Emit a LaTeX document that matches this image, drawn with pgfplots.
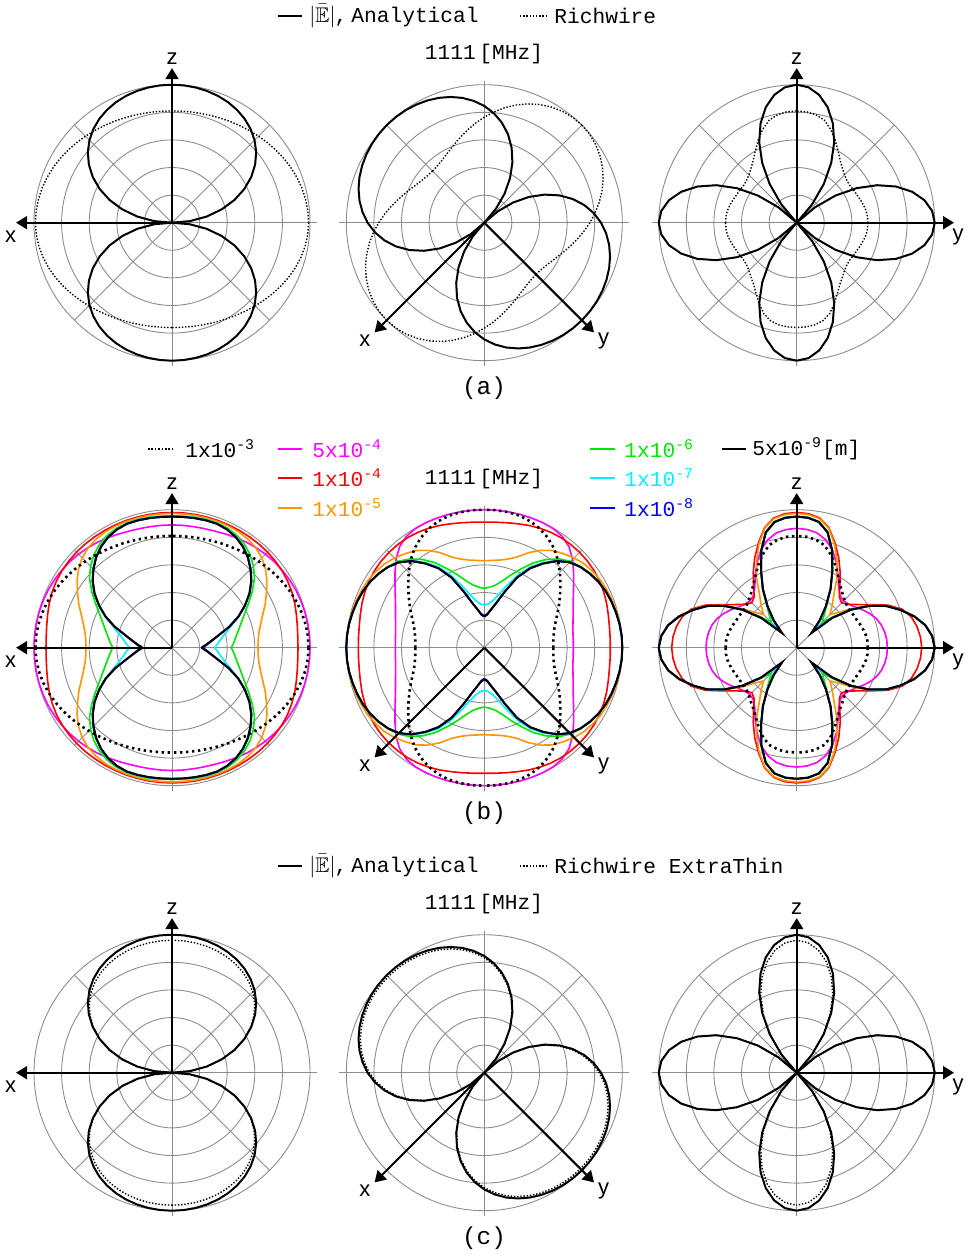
\documentclass[border=0pt]{standalone}
\usepackage{amssymb}
\usepackage{pgfplots}
\pgfplotsset{compat=1.18}
\usepackage{pgfplotstable}
\usepackage{fontspec}
\setmainfont{Liberation Mono}
\newfontfamily\lsans{Liberation Sans}
\usetikzlibrary{arrows.meta}

\definecolor{cmag}{RGB}{255,0,255}
\definecolor{cred}{RGB}{255,0,0}
\definecolor{cora}{RGB}{255,150,0}
\definecolor{cgre}{RGB}{0,230,0}
\definecolor{ccya}{RGB}{0,240,255}
\definecolor{cblu}{RGB}{0,0,255}

% quadrant tables: a = angle from the horizontal (deg), radii normalised to 1
\pgfplotstableread{
a E Ed Ec P Q Qd Dt Db Du Dl
0 0 0 0 1.000 1 1 0.990 0.990 0.515 0.515
5 0.1293 0.1302 0.1274 0.9964 0.9848 0.9848 0.9882 0.9874 0.515 0.515
10 0.2547 0.2560 0.2509 0.9858 0.9397 0.9397 0.9827 0.9797 0.510 0.510
15 0.3731 0.3741 0.3675 0.9685 0.8660 0.8660 0.9740 0.9677 0.500 0.500
20 0.4816 0.4813 0.4744 0.9450 0.7660 0.7660 0.9626 0.9520 0.490 0.490
25 0.5786 0.5760 0.5699 0.9161 0.6428 0.6428 0.9490 0.9336 0.480 0.480
30 0.6633 0.6575 0.6534 0.8825 0.5000 0.5000 0.9341 0.9136 0.475 0.475
35 0.7356 0.7260 0.7246 0.8454 0.3420 0.3420 0.9182 0.8929 0.470 0.470
40 0.7962 0.7824 0.7843 0.8058 0.1736 0.1736 0.9023 0.8723 0.475 0.475
45 0.8459 0.8279 0.8332 0.7650 0 0 0.8866 0.8526 0.490 0.490
50 0.8862 0.8639 0.8729 0.7242 0.1736 0.1667 0.8717 0.8341 0.515 0.515
55 0.9183 0.8921 0.9045 0.6846 0.3420 0.3283 0.8580 0.8172 0.550 0.545
60 0.9434 0.9136 0.9292 0.6475 0.5000 0.4800 0.8457 0.8023 0.600 0.590
65 0.9627 0.9299 0.9483 0.6139 0.6428 0.6171 0.8351 0.7895 0.660 0.645
70 0.9772 0.9418 0.9625 0.5850 0.7660 0.7354 0.8262 0.7790 0.720 0.700
75 0.9876 0.9502 0.9728 0.5615 0.8660 0.8314 0.8192 0.7707 0.770 0.735
80 0.9947 0.9559 0.9798 0.5442 0.9397 0.9021 0.8141 0.7648 0.795 0.752
85 0.9987 0.9591 0.9837 0.5336 0.9848 0.9454 0.8110 0.7612 0.807 0.758
90 1 0.9601 0.985 0.5300 1 0.96 0.8100 0.7600 0.810 0.760
}\TA

% row (b), x-z plane
\pgfplotstableread{
a M R O G C B K
0 1.000 0.913 0.623 0.430 0.310 0.222 0.213
5 1.000 0.915 0.627 0.450 0.333 0.255 0.248
10 0.999 0.922 0.640 0.472 0.360 0.295 0.290
15 0.997 0.933 0.665 0.500 0.400 0.352 0.350
20 0.994 0.946 0.700 0.535 0.455 0.440 0.440
25 0.990 0.958 0.745 0.580 0.535 0.530 0.530
30 0.984 0.967 0.790 0.640 0.615 0.610 0.610
35 0.977 0.973 0.840 0.710 0.690 0.685 0.685
40 0.968 0.977 0.885 0.780 0.755 0.750 0.750
45 0.958 0.979 0.920 0.835 0.810 0.805 0.805
50 0.947 0.980 0.945 0.880 0.860 0.855 0.855
55 0.935 0.980 0.960 0.915 0.900 0.895 0.895
60 0.922 0.980 0.968 0.940 0.930 0.925 0.925
65 0.910 0.980 0.972 0.955 0.950 0.945 0.945
70 0.900 0.980 0.973 0.962 0.960 0.955 0.955
75 0.894 0.980 0.973 0.962 0.960 0.955 0.955
80 0.891 0.980 0.973 0.960 0.957 0.953 0.953
85 0.890 0.980 0.973 0.957 0.955 0.951 0.951
90 0.890 0.980 0.973 0.955 0.953 0.950 0.950
}\TBa

% row (b), x-y plane
\pgfplotstableread{
a M R O G C B K D
0 0.645 0.913 1.000 1.000 1.000 1.000 1.000 0.500
5 0.647 0.915 1.000 0.999 0.999 0.999 0.999 0.502
10 0.652 0.920 0.998 0.995 0.995 0.995 0.995 0.510
15 0.665 0.930 0.995 0.988 0.988 0.988 0.988 0.525
20 0.685 0.943 0.990 0.980 0.980 0.980 0.980 0.550
25 0.710 0.955 0.982 0.970 0.970 0.970 0.970 0.585
30 0.745 0.965 0.975 0.957 0.955 0.955 0.955 0.625
35 0.790 0.972 0.960 0.938 0.935 0.935 0.935 0.670
40 0.845 0.976 0.945 0.913 0.910 0.910 0.910 0.720
45 0.905 0.977 0.920 0.885 0.876 0.875 0.875 0.775
50 0.955 0.976 0.890 0.840 0.825 0.820 0.820 0.830
55 0.985 0.972 0.860 0.780 0.755 0.745 0.745 0.880
60 0.997 0.965 0.815 0.710 0.680 0.665 0.665 0.920
65 1.000 0.955 0.760 0.630 0.585 0.560 0.560 0.952
70 1.000 0.943 0.700 0.560 0.480 0.430 0.430 0.975
75 1.000 0.930 0.665 0.500 0.395 0.337 0.335 0.990
80 1.000 0.920 0.645 0.460 0.345 0.283 0.280 0.997
85 1.000 0.913 0.635 0.440 0.318 0.245 0.240 1.000
90 1.000 0.910 0.630 0.430 0.310 0.232 0.225 1.000
}\TBb

% row (b), y-z plane
\pgfplotstableread{
a M R O G C B K
0 0.657 0.906 1.000 1.000 1.000 1.000 1.000
5 0.655 0.900 0.985 0.985 0.985 0.985 0.985
10 0.648 0.885 0.948 0.946 0.945 0.945 0.945
15 0.635 0.860 0.885 0.882 0.880 0.880 0.880
20 0.615 0.815 0.805 0.802 0.800 0.800 0.800
25 0.585 0.730 0.720 0.717 0.715 0.715 0.715
30 0.550 0.625 0.615 0.607 0.605 0.605 0.605
35 0.515 0.545 0.500 0.485 0.480 0.480 0.480
40 0.490 0.490 0.400 0.355 0.340 0.335 0.335
45 0.480 0.460 0.340 0.260 0.200 0.155 0.150
50 0.490 0.480 0.400 0.310 0.275 0.262 0.260
55 0.530 0.545 0.470 0.380 0.370 0.370 0.370
60 0.600 0.630 0.580 0.495 0.490 0.490 0.490
65 0.680 0.720 0.690 0.615 0.610 0.610 0.610
70 0.755 0.810 0.800 0.755 0.750 0.750 0.750
75 0.810 0.900 0.895 0.868 0.865 0.865 0.865
80 0.845 0.955 0.950 0.928 0.925 0.925 0.925
85 0.860 0.975 0.968 0.948 0.945 0.945 0.945
90 0.865 0.980 0.973 0.953 0.950 0.950 0.950
}\TBc

\pgfplotsset{
  pol/.style={width=154.56pt, height=154.56pt, scale only axis,
    xmin=-1.12, xmax=1.12, ymin=-1.12, ymax=1.12,
    hide axis, clip=false, anchor=center},
  sol/.style={data cs=polar, no marks, black, line width=1pt},
  dota/.style={data cs=polar, no marks, black, line width=0.7pt, dash pattern=on 0.7pt off 0.9pt},
  dotb/.style={data cs=polar, no marks, black, line width=1.3pt, dash pattern=on 1.2pt off 1.8pt},
  lm/.style={data cs=polar, no marks, cmag, line width=0.8pt},
  lr/.style={data cs=polar, no marks, cred, line width=0.8pt},
  lo/.style={data cs=polar, no marks, cora, line width=0.8pt},
  lg/.style={data cs=polar, no marks, cgre, line width=0.8pt},
  lc/.style={data cs=polar, no marks, ccya, line width=0.8pt},
  lb/.style={data cs=polar, no marks, cblu, line width=0.9pt},
}
\tikzset{
  gridc/.style={black!45, line width=0.45pt},
  axarr/.style={line width=1pt, -{Triangle[length=5.5pt,width=6.5pt]}},
  axlab/.style={font=\lsans\fontsize{11}{11}\selectfont},
}

% upper and lower halves of a curve given on one quadrant; #4 turns the frame
\newcommand{\qup}[4]{%
  \addplot[#1] table[x expr={#4+\thisrow{a}}, y=#3] {#2};
  \addplot[#1] table[x expr={#4+180-\thisrow{a}}, y=#3] {#2};}
\newcommand{\qdn}[4]{%
  \addplot[#1] table[x expr={#4+180+\thisrow{a}}, y=#3] {#2};
  \addplot[#1] table[x expr={#4+360-\thisrow{a}}, y=#3] {#2};}
\newcommand{\fourq}[4]{\qup{#1}{#2}{#3}{#4}\qdn{#1}{#2}{#3}{#4}}

\newcommand{\polgrid}{%
  \draw[gridc] (axis cs:0,0) circle[radius=13.8pt];
  \draw[gridc] (axis cs:0,0) circle[radius=27.6pt];
  \draw[gridc] (axis cs:0,0) circle[radius=41.4pt];
  \draw[gridc] (axis cs:0,0) circle[radius=55.2pt];
  \draw[gridc] (axis cs:0,0) circle[radius=69pt];
  \draw[gridc] (axis cs:-1.05,0) -- (axis cs:1.05,0);
  \draw[gridc] (axis cs:0,-1.04) -- (axis cs:0,1.03);
  \draw[gridc] (axis cs:-0.7071,-0.7071) -- (axis cs:0.7071,0.7071);
  \draw[gridc] (axis cs:-0.7071,0.7071) -- (axis cs:0.7071,-0.7071);}
\newcommand{\arrZX}{%
  \draw[axarr] (axis cs:0,0) -- (axis cs:0,1.12);
  \draw[axarr] (axis cs:0,0) -- (axis cs:-1.13,0);
  \node[axlab] at (axis cs:0,1.19) {z};
  \node[axlab] at (axis cs:-1.17,-0.10) {x};}
\newcommand{\arrXY}{%
  \draw[axarr] (axis cs:0,0) -- (axis cs:-0.795,-0.795);
  \draw[axarr] (axis cs:0,0) -- (axis cs:0.795,-0.795);
  \node[axlab] at (axis cs:-0.865,-0.857) {x};
  \node[axlab] at (axis cs:0.865,-0.857) {y};}
\newcommand{\arrZY}{%
  \draw[axarr] (axis cs:0,0) -- (axis cs:0,1.12);
  \draw[axarr] (axis cs:0,0) -- (axis cs:1.14,0);
  \node[axlab] at (axis cs:0,1.19) {z};
  \node[axlab] at (axis cs:1.17,-0.10) {y};}
\newcommand{\Elab}{$|\bar{\mathbb{E}}|$\kern-0.5pt,\kern2pt Analytical}

\begin{document}
\begin{tikzpicture}[font=\fontsize{10.6}{12}\selectfont]
\useasboundingbox (0pt,0pt) rectangle (488pt,-628pt);

% ---------- row (a) ----------
\draw[line width=1pt] (139pt,-8pt) -- (151pt,-8pt);
\node[anchor=west, inner sep=1pt] at (153.5pt,-8pt) {\Elab};
\draw[line width=0.7pt, dash pattern=on 0.7pt off 0.9pt] (260pt,-8pt) -- (273.5pt,-8pt);
\node[anchor=west, inner sep=1pt] at (276pt,-8pt) {Richwire};
\node at (242pt,-27pt) {1111\,[MHz]};
\node[font=\fontsize{12.2}{14}\selectfont] at (242pt,-194pt) {(a)};

\begin{axis}[pol, at={(86pt,-111.35pt)}]
\polgrid
\qup{dota}{\TA}{Dt}{0}\qdn{dota}{\TA}{Db}{0}
\fourq{sol}{\TA}{E}{0}
\arrZX
\end{axis}
\begin{axis}[pol, at={(242.15pt,-111.35pt)}]
\polgrid
\fourq{dota}{\TA}{P}{45}
\fourq{sol}{\TA}{E}{45}
\arrXY
\end{axis}
\begin{axis}[pol, at={(398.35pt,-111.35pt)}]
\polgrid
\qup{dota}{\TA}{Du}{0}\qdn{dota}{\TA}{Dl}{0}
\fourq{sol}{\TA}{Q}{0}
\arrZY
\end{axis}

% ---------- row (b) ----------
\draw[line width=0.8pt, dash pattern=on 0.8pt off 0.9pt] (74pt,-224.5pt) -- (87.5pt,-224.5pt);
\node[anchor=west, inner sep=1pt] at (91.5pt,-224.5pt) {1x10\textsuperscript{-3}};
\draw[cmag, line width=0.9pt] (139pt,-224.5pt) -- (151pt,-224.5pt);
\node[anchor=west, inner sep=1pt, text=cmag] at (155pt,-224.5pt) {5x10\textsuperscript{-4}};
\draw[cred, line width=0.9pt] (139pt,-239pt) -- (151pt,-239pt);
\node[anchor=west, inner sep=1pt, text=cred] at (155pt,-239pt) {1x10\textsuperscript{-4}};
\draw[cora, line width=0.9pt] (139pt,-254pt) -- (151pt,-254pt);
\node[anchor=west, inner sep=1pt, text=cora] at (155pt,-254pt) {1x10\textsuperscript{-5}};
\draw[cgre, line width=0.9pt] (295pt,-224.5pt) -- (307.5pt,-224.5pt);
\node[anchor=west, inner sep=1pt, text=cgre] at (311pt,-224.5pt) {1x10\textsuperscript{-6}};
\draw[ccya, line width=0.9pt] (295pt,-239pt) -- (307.5pt,-239pt);
\node[anchor=west, inner sep=1pt, text=ccya] at (311pt,-239pt) {1x10\textsuperscript{-7}};
\draw[cblu, line width=0.9pt] (295pt,-254pt) -- (307.5pt,-254pt);
\node[anchor=west, inner sep=1pt, text=cblu] at (311pt,-254pt) {1x10\textsuperscript{-8}};
\draw[line width=1pt] (361pt,-224.5pt) -- (373pt,-224.5pt);
\node[anchor=west, inner sep=1pt] at (375pt,-224.5pt) {5x10\textsuperscript{-9}[m]};
\node at (242pt,-239.5pt) {1111\,[MHz]};
\node[font=\fontsize{12.2}{14}\selectfont] at (242pt,-406.5pt) {(b)};

\begin{axis}[pol, at={(86pt,-323.85pt)}]
\polgrid
\fourq{lm}{\TBa}{M}{0}
\fourq{lr}{\TBa}{R}{0}
\fourq{lo}{\TBa}{O}{0}
\fourq{lg}{\TBa}{G}{0}
\fourq{lc}{\TBa}{C}{0}
\fourq{lb}{\TBa}{B}{0}
\fourq{sol}{\TBa}{K}{0}
\qup{dotb}{\TA}{Dt}{0}\qdn{dotb}{\TA}{Db}{0}
\arrZX
\end{axis}
\begin{axis}[pol, at={(242.15pt,-323.85pt)}]
\polgrid
\fourq{lm}{\TBb}{M}{0}
\fourq{lr}{\TBb}{R}{0}
\fourq{lo}{\TBb}{O}{0}
\fourq{lg}{\TBb}{G}{0}
\fourq{lc}{\TBb}{C}{0}
\fourq{lb}{\TBb}{B}{0}
\fourq{sol}{\TBb}{K}{0}
\fourq{dotb}{\TBb}{D}{0}
\arrXY
\end{axis}
\begin{axis}[pol, at={(398.35pt,-323.85pt)}]
\polgrid
\fourq{lm}{\TBc}{M}{0}
\fourq{lr}{\TBc}{R}{0}
\fourq{lo}{\TBc}{O}{0}
\fourq{lg}{\TBc}{G}{0}
\fourq{lc}{\TBc}{C}{0}
\fourq{lb}{\TBc}{B}{0}
\fourq{sol}{\TBc}{K}{0}
\qup{dotb}{\TA}{Du}{0}\qdn{dotb}{\TA}{Dl}{0}
\arrZY
\end{axis}

% ---------- row (c) ----------
\draw[line width=1pt] (139pt,-433pt) -- (151pt,-433pt);
\node[anchor=west, inner sep=1pt] at (153.5pt,-433pt) {\Elab};
\draw[line width=0.7pt, dash pattern=on 0.7pt off 0.9pt] (260pt,-433pt) -- (273.5pt,-433pt);
\node[anchor=west, inner sep=1pt] at (276pt,-433pt) {Richwire ExtraThin};
\node at (242pt,-452pt) {1111\,[MHz]};
\node[font=\fontsize{12.2}{14}\selectfont] at (242pt,-619pt) {(c)};

\begin{axis}[pol, at={(86pt,-536.35pt)}]
\polgrid
\fourq{dota}{\TA}{Ed}{0}
\fourq{sol}{\TA}{E}{0}
\arrZX
\end{axis}
\begin{axis}[pol, at={(242.15pt,-536.35pt)}]
\polgrid
\fourq{dota}{\TA}{Ec}{45}
\fourq{sol}{\TA}{E}{45}
\arrXY
\end{axis}
\begin{axis}[pol, at={(398.35pt,-536.35pt)}]
\polgrid
\fourq{dota}{\TA}{Qd}{0}
\fourq{sol}{\TA}{Q}{0}
\arrZY
\end{axis}
\end{tikzpicture}
\end{document}
